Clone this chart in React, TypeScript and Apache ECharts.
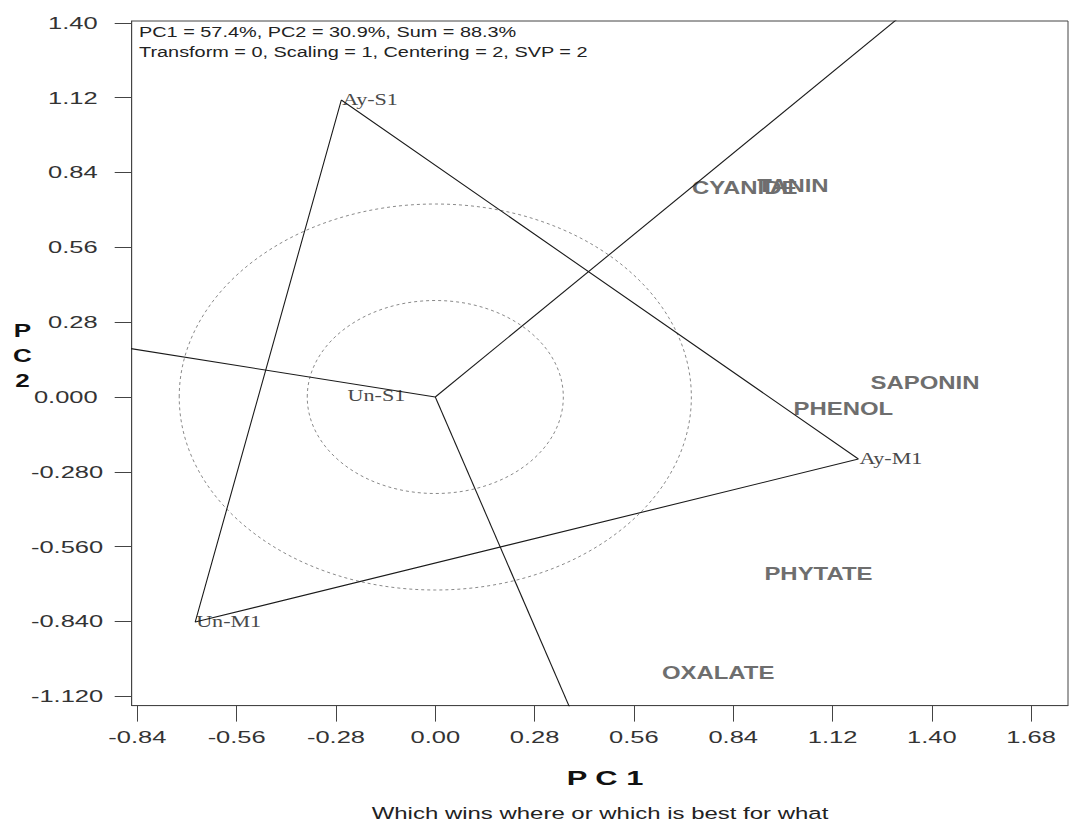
import React, { useEffect, useRef } from "react";
import * as echarts from "echarts";

// ---- data ----
const genotypeNames = ["Ay-S1", "Ay-M1", "Un-M1", "Un-S1"];
const genotypeX = [-0.265, 1.193, -0.677, -0.25];
const genotypeY = [1.111, -0.232, -0.842, 0.004];
const polygonOrder = ["Ay-S1", "Ay-M1", "Un-M1"];

const traitNames = ["CYANIDE", "TANIN", "SAPONIN", "PHENOL", "PHYTATE", "OXALATE"];
const traitX = [0.724, 0.908, 1.227, 1.01, 0.928, 0.639];
const traitY = [0.784, 0.79, 0.054, -0.045, -0.662, -1.031];

const circleRadii = [0.361, 0.722];

const xTicks = [-0.84, -0.56, -0.28, 0, 0.28, 0.56, 0.84, 1.12, 1.4, 1.68];
const xTickLabels = ["-0.84", "-0.56", "-0.28", "0.00", "0.28", "0.56", "0.84", "1.12", "1.40", "1.68"];
const yTicks = [1.4, 1.12, 0.84, 0.56, 0.28, 0, -0.28, -0.56, -0.84, -1.12];
const yTickLabels = ["1.40", "1.12", "0.84", "0.56", "0.28", "0.000", "-0.280", "-0.560", "-0.840", "-1.120"];

const infoLines = [
  "PC1 = 57.4%, PC2 = 30.9%, Sum = 88.3%",
  "Transform = 0, Scaling = 1, Centering = 2, SVP = 2",
];
const xTitle = "P C 1";
const yTitle = "P\nC\n2";
const subtitle = "Which wins where or which is best for what";

const X_MIN = -0.856;
const X_MAX = 1.784;
const Y_MIN = -1.1545;
const Y_MAX = 1.4067;

const SX = 1.33; // horizontal stretch of the original picture
const SANS = "'Liberation Sans', Arial, sans-serif";
const SERIF = "'Liberation Serif', 'Times New Roman', serif";

export default function App() {
  const ref = useRef<HTMLDivElement>(null);

  useEffect(() => {
    if (!ref.current) return;
    const chart = echarts.init(ref.current, undefined, { renderer: "svg" });

    const polyPts = polygonOrder.map((n) => {
      const i = genotypeNames.indexOf(n);
      return [genotypeX[i], genotypeY[i]];
    });
    const polyData = [...polyPts, polyPts[0]];

    const rays = polyPts.map((a, k) => {
      const b = polyPts[(k + 1) % polyPts.length];
      let nx = b[1] - a[1];
      let ny = -(b[0] - a[0]);
      if (nx * a[0] + ny * a[1] < 0) {
        nx = -nx;
        ny = -ny;
      }
      const L = Math.hypot(nx, ny);
      return [
        [0, 0],
        [(nx / L) * 5, (ny / L) * 5],
      ];
    });

    const lineStyle = { color: "#1a1a1a", width: 1.1 };

    const series: any[] = [
      {
        type: "custom",
        name: "circles",
        data: circleRadii.map((r) => [r, 0]),
        silent: true,
        renderItem: (_p: any, api: any) => {
          const r = api.value(0);
          const c = api.coord([0, 0]);
          const rx = api.size([r, 0])[0];
          const ry = api.size([0, r])[1];
          return {
            type: "ellipse",
            shape: { cx: c[0], cy: c[1], rx, ry },
            style: { fill: "none", stroke: "#8a8a8a", lineWidth: 1, lineDash: [3, 3] },
          };
        },
      },
      {
        type: "line",
        name: "polygon",
        data: polyData,
        symbol: "none",
        lineStyle,
        silent: true,
      },
      ...rays.map((r, i) => ({
        type: "line",
        name: "ray" + i,
        data: r,
        symbol: "none",
        lineStyle,
        silent: true,
        clip: true,
      })),
      {
        type: "custom",
        name: "genotypes",
        data: genotypeNames.map((n, i) => [genotypeX[i], genotypeY[i], i]),
        renderItem: (_p: any, api: any) => {
          const pt = api.coord([api.value(0), api.value(1)]);
          const i = api.value(2);
          return {
            type: "text",
            x: pt[0] + 1,
            y: pt[1],
            scaleX: 1.38,
            style: {
              text: genotypeNames[i],
              fill: "#4a4a4a",
              font: `16px ${SERIF}`,
              align: "left",
              verticalAlign: "middle",
            },
          };
        },
      },
      {
        type: "custom",
        name: "traits",
        data: traitNames.map((n, i) => [traitX[i], traitY[i], i]),
        renderItem: (_p: any, api: any) => {
          const pt = api.coord([api.value(0), api.value(1)]);
          const i = api.value(2);
          return {
            type: "text",
            x: pt[0],
            y: pt[1],
            scaleX: SX,
            style: {
              text: traitNames[i],
              fill: "#6e6e6e",
              font: `bold 18px ${SANS}`,
              align: "left",
              verticalAlign: "middle",
            },
          };
        },
      },
      {
        type: "custom",
        name: "xticklabels",
        data: xTicks.map((v, i) => [v, Y_MIN, i]),
        renderItem: (_p: any, api: any) => {
          const pt = api.coord([api.value(0), api.value(1)]);
          const i = api.value(2);
          return {
            type: "text",
            x: pt[0],
            y: pt[1] + 32,
            scaleX: 1.5,
            style: {
              text: xTickLabels[i],
              fill: "#333",
              font: `17px ${SANS}`,
              align: "center",
              verticalAlign: "middle",
            },
          };
        },
      },
      {
        type: "custom",
        name: "yticklabels",
        data: yTicks.map((v, i) => [X_MIN, v, i]),
        renderItem: (_p: any, api: any) => {
          const pt = api.coord([api.value(0), api.value(1)]);
          const i = api.value(2);
          const neg = yTickLabels[i].startsWith("-");
          return {
            type: "text",
            x: pt[0] - (neg ? 28.5 : 34),
            y: pt[1],
            scaleX: 1.5,
            style: {
              text: yTickLabels[i],
              fill: "#333",
              font: `17px ${SANS}`,
              align: "right",
              verticalAlign: "middle",
            },
          };
        },
      },
    ];

    chart.setOption({
      animation: false,
      backgroundColor: "#ffffff",
      grid: {
        left: 131.7,
        right: 1,
        top: 21,
        bottom: 117.4,
        show: true,
        borderColor: "#444",
        borderWidth: 1,
      },
      xAxis: {
        type: "value",
        min: X_MIN,
        max: X_MAX,
        axisLine: { show: true, onZero: false, lineStyle: { color: "#444", width: 1 } },
        axisTick: { show: true, customValues: xTicks, length: 16, lineStyle: { color: "#444" } },
        axisLabel: { show: false },
        splitLine: { show: false },
      },
      yAxis: {
        type: "value",
        min: Y_MIN,
        max: Y_MAX,
        axisLine: { show: true, onZero: false, lineStyle: { color: "#444", width: 1 } },
        axisTick: { show: true, customValues: yTicks, length: 17, lineStyle: { color: "#444" } },
        axisLabel: { show: false },
        splitLine: { show: false },
      },
      graphic: [
        ...infoLines.map((t, i) => ({
          type: "text",
          x: 139,
          y: 32.5 + i * 20,
          scaleX: 1.42,
          silent: true,
          style: { text: t, fill: "#222", font: `14px ${SANS}`, align: "left", verticalAlign: "middle" },
        })),
        {
          type: "text",
          x: 605,
          y: 778,
          scaleX: 1.47,
          silent: true,
          style: { text: xTitle, fill: "#111", font: `bold 21px ${SANS}`, align: "center", verticalAlign: "middle" },
        },
        {
          type: "text",
          x: 22.5,
          y: 356,
          scaleX: 1.45,
          silent: true,
          style: {
            text: yTitle,
            fill: "#111",
            font: `bold 18px ${SANS}`,
            lineHeight: 25,
            align: "center",
            verticalAlign: "middle",
          },
        },
        {
          type: "text",
          x: 600,
          y: 813,
          scaleX: 1.41,
          silent: true,
          style: { text: subtitle, fill: "#222", font: `17px ${SANS}`, align: "center", verticalAlign: "middle" },
        },
      ],
      series,
    });

    return () => chart.dispose();
  }, []);

  return (
    <div
      ref={ref}
      style={{ position: "absolute", left: 0, top: 0, width: 1069, height: 823 }}
    />
  );
}
